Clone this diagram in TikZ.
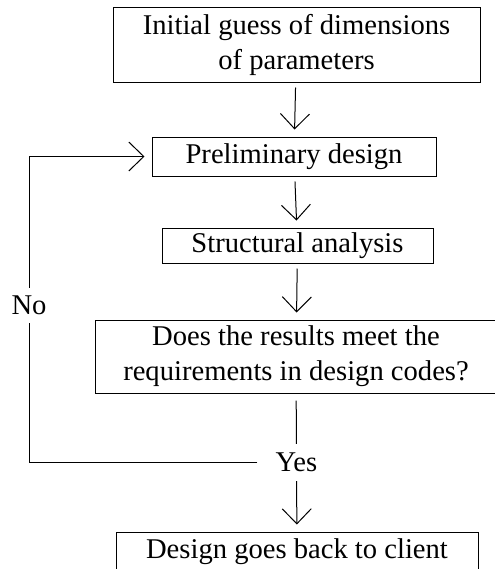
\documentclass[tikz,border=0pt]{standalone}
\usepackage{fontspec}
\setmainfont{Liberation Serif}
\usetikzlibrary{arrows.meta}
\tikzset{
  box/.style={draw, line width=0.5pt, align=center, inner sep=0pt,
    font=\fontsize{14.3}{17.5}\selectfont},
  answer/.style={inner ysep=4.5pt, text height=9.3pt, text depth=0pt,
    font=\fontsize{14.3}{17.5}\selectfont},
  flow/.style={-{Straight Barb[length=7.5pt,width=14.5pt]}, line width=0.5pt,
    shorten <=2.5pt, shorten >=3.5pt},
  line/.style={line width=0.5pt}
}

\begin{document}
\begin{tikzpicture}[x=0.5pt,y=-0.5pt]
\useasboundingbox (0,0) rectangle (494,569);

\coordinate (P1) at (296.5,44.5);
\coordinate (P2) at (294,156.5);
\coordinate (P3) at (297.5,245.5);
\coordinate (P4) at (296,356.5);
\coordinate (P5) at (297,552);

\node[box, minimum width=183.5pt, minimum height=37.5pt] (guess) at (P1)
  {Initial guess of dimensions\\of parameters};
\node[box, minimum width=142pt, minimum height=19.5pt] (prelim) at (P2)
  {Preliminary design};
\node[box, minimum width=135.5pt, minimum height=17.5pt] (analysis) at (P3)
  {Structural analysis};
\node[box, minimum width=201pt, minimum height=36.5pt] (check) at (P4)
  {Does the results meet the\\requirements in design codes?};
\node[box, minimum width=181pt, minimum height=20pt] (client) at (P5)
  {Design goes back to client};

\node[answer, inner xsep=9pt] (yes) at (296.5,462.5) {Yes};
\node[answer, inner xsep=2pt, inner ysep=4pt] (no) at (29,305.5) {No};

\draw[flow] (guess) -- (prelim);
\draw[flow] (prelim) -- (analysis);
\draw[flow] (analysis) -- (check);
\draw[line, shorten <=3.5pt] (check) -- (yes);
\draw[flow, shorten <=0pt] (yes) -- (client);

% back to the start when the check fails
\draw[line] (yes.west) -| (no.south);
\draw[flow, shorten <=0pt] (no.north) |- (prelim.west);

\end{tikzpicture}
\end{document}
